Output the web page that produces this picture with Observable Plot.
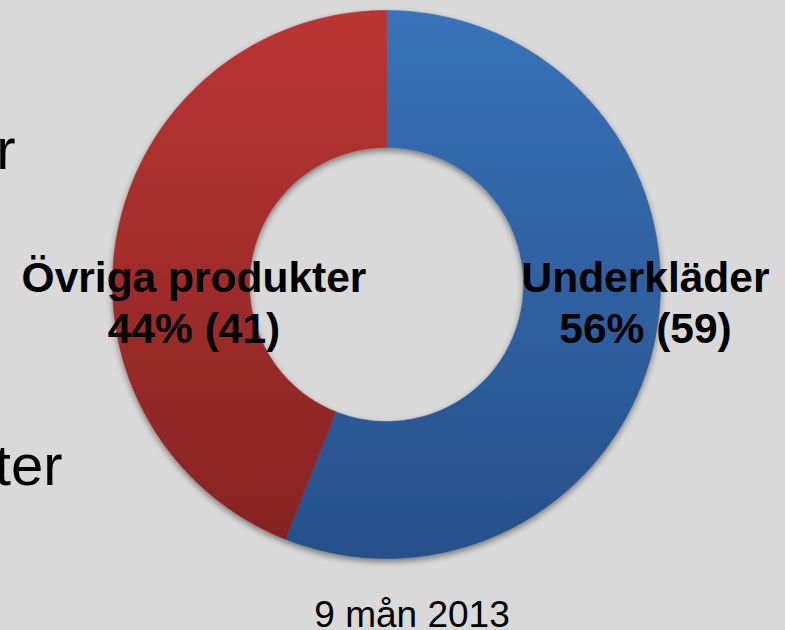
<!DOCTYPE html>
<html>
<head>
<meta charset="utf-8">
<script src="https://cdn.jsdelivr.net/npm/d3@7"></script>
<script src="https://cdn.jsdelivr.net/npm/@observablehq/plot@0.6"></script>
<style>
  html, body { margin: 0; padding: 0; background: #d9d9d9; }
  #chart svg { display: block; background: #d9d9d9; }
</style>
</head>
<body>
<div id="chart"></div>
<script>
// ---- data ----
const categories = ["Underkläder", "Övriga produkter"];
const shares = [56, 44];          // percent of ring
const counts = [59, 41];          // value in parentheses
const caption = "9 mån 2013";
const fragments = ["r", "ter"];   // cut-off slide text on the left

// ---- geometry ----
const innerRatio = 0.5;
const pie = d3.pie().sort(null).value(d => d)(shares);
const rings = pie.map((p, i) => {
  const steps = Math.max(8, Math.ceil((p.endAngle - p.startAngle) / (2 * Math.PI) * 400));
  const pts = [];
  for (let k = 0; k <= steps; k++) {
    const a = p.startAngle + (p.endAngle - p.startAngle) * k / steps;
    pts.push({x: Math.sin(a), y: Math.cos(a), cat: categories[i]});
  }
  for (let k = steps; k >= 0; k--) {
    const a = p.startAngle + (p.endAngle - p.startAngle) * k / steps;
    pts.push({x: innerRatio * Math.sin(a), y: innerRatio * Math.cos(a), cat: categories[i]});
  }
  return pts;
});
const gradIds = ["gBlue", "gRed"];
const labels = categories.map((c, i) => `${c}\n${shares[i]}% (${counts[i]})`);

const font = "'Liberation Sans', Arial, Helvetica, sans-serif";
const cx = 386, cy = 284, R = 274;

const plot = Plot.plot({
  width: 785,
  height: 630,
  margin: 0,
  style: {background: "#d9d9d9", fontFamily: font},
  x: {domain: [-1, 1], range: [cx - R, cx + R], axis: null},
  y: {domain: [-1, 1], range: [cy + R, cy - R], axis: null},
  marks: [
    ...rings.map((pts, i) => Plot.line(pts, {
      x: "x", y: "y", curve: "linear",
      fill: `url(#${gradIds[i]})`, stroke: `url(#${gradIds[i]})`, strokeWidth: 0.6
    })),
    Plot.text([labels[1]], {frameAnchor: "top-left", dx: 193.5, dy: 342, text: d => d,
      fontSize: 42.5, fontWeight: "bold", textAnchor: "middle", lineAnchor: "bottom", lineHeight: 1.18, fill: "#000"}),
    Plot.text([labels[0]], {frameAnchor: "top-left", dx: 645, dy: 342, text: d => d,
      fontSize: 42.5, fontWeight: "bold", textAnchor: "middle", lineAnchor: "bottom", lineHeight: 1.18, fill: "#000"}),
    Plot.text([caption], {frameAnchor: "top-left", dx: 411.5, dy: 626, text: d => d,
      fontSize: 37, textAnchor: "middle", lineAnchor: "bottom", fill: "#000"}),
    Plot.text([fragments[0]], {frameAnchor: "top-left", dx: 15, dy: 168, text: d => d,
      fontSize: 58, textAnchor: "end", lineAnchor: "bottom", fill: "#000"}),
    Plot.text([fragments[1]], {frameAnchor: "top-left", dx: 62, dy: 484, text: d => d,
      fontSize: 58, textAnchor: "end", lineAnchor: "bottom", fill: "#000"})
  ]
});

// gradients + shadow
const yScale = plot.scale("y");
const svg = d3.select(plot);
const defs = svg.insert("defs", ":first-child");
const gradStops = {gBlue: ["#3872b8", "#26508a"], gRed: ["#ba3533", "#852322"]};
for (const id of gradIds) {
  const g = defs.append("linearGradient").attr("id", id)
    .attr("gradientUnits", "userSpaceOnUse")
    .attr("x1", 0).attr("x2", 0)
    .attr("y1", yScale.apply(1)).attr("y2", yScale.apply(-1));
  g.append("stop").attr("offset", "0%").attr("stop-color", gradStops[id][0]);
  g.append("stop").attr("offset", "100%").attr("stop-color", gradStops[id][1]);
}
const f = defs.append("filter").attr("id", "shadow")
  .attr("x", "-10%").attr("y", "-10%").attr("width", "120%").attr("height", "120%");
f.append("feDropShadow").attr("dx", 0).attr("dy", 3).attr("stdDeviation", 3)
  .attr("flood-color", "#000").attr("flood-opacity", 0.45);

const sliceGroups = plot.querySelectorAll('g[fill^="url"]');
if (sliceGroups.length) {
  const wrap = document.createElementNS("http://www.w3.org/2000/svg", "g");
  wrap.setAttribute("filter", "url(#shadow)");
  sliceGroups[0].parentNode.insertBefore(wrap, sliceGroups[0]);
  sliceGroups.forEach(g => wrap.appendChild(g));
}

document.getElementById("chart").appendChild(plot);
</script>
</body>
</html>
